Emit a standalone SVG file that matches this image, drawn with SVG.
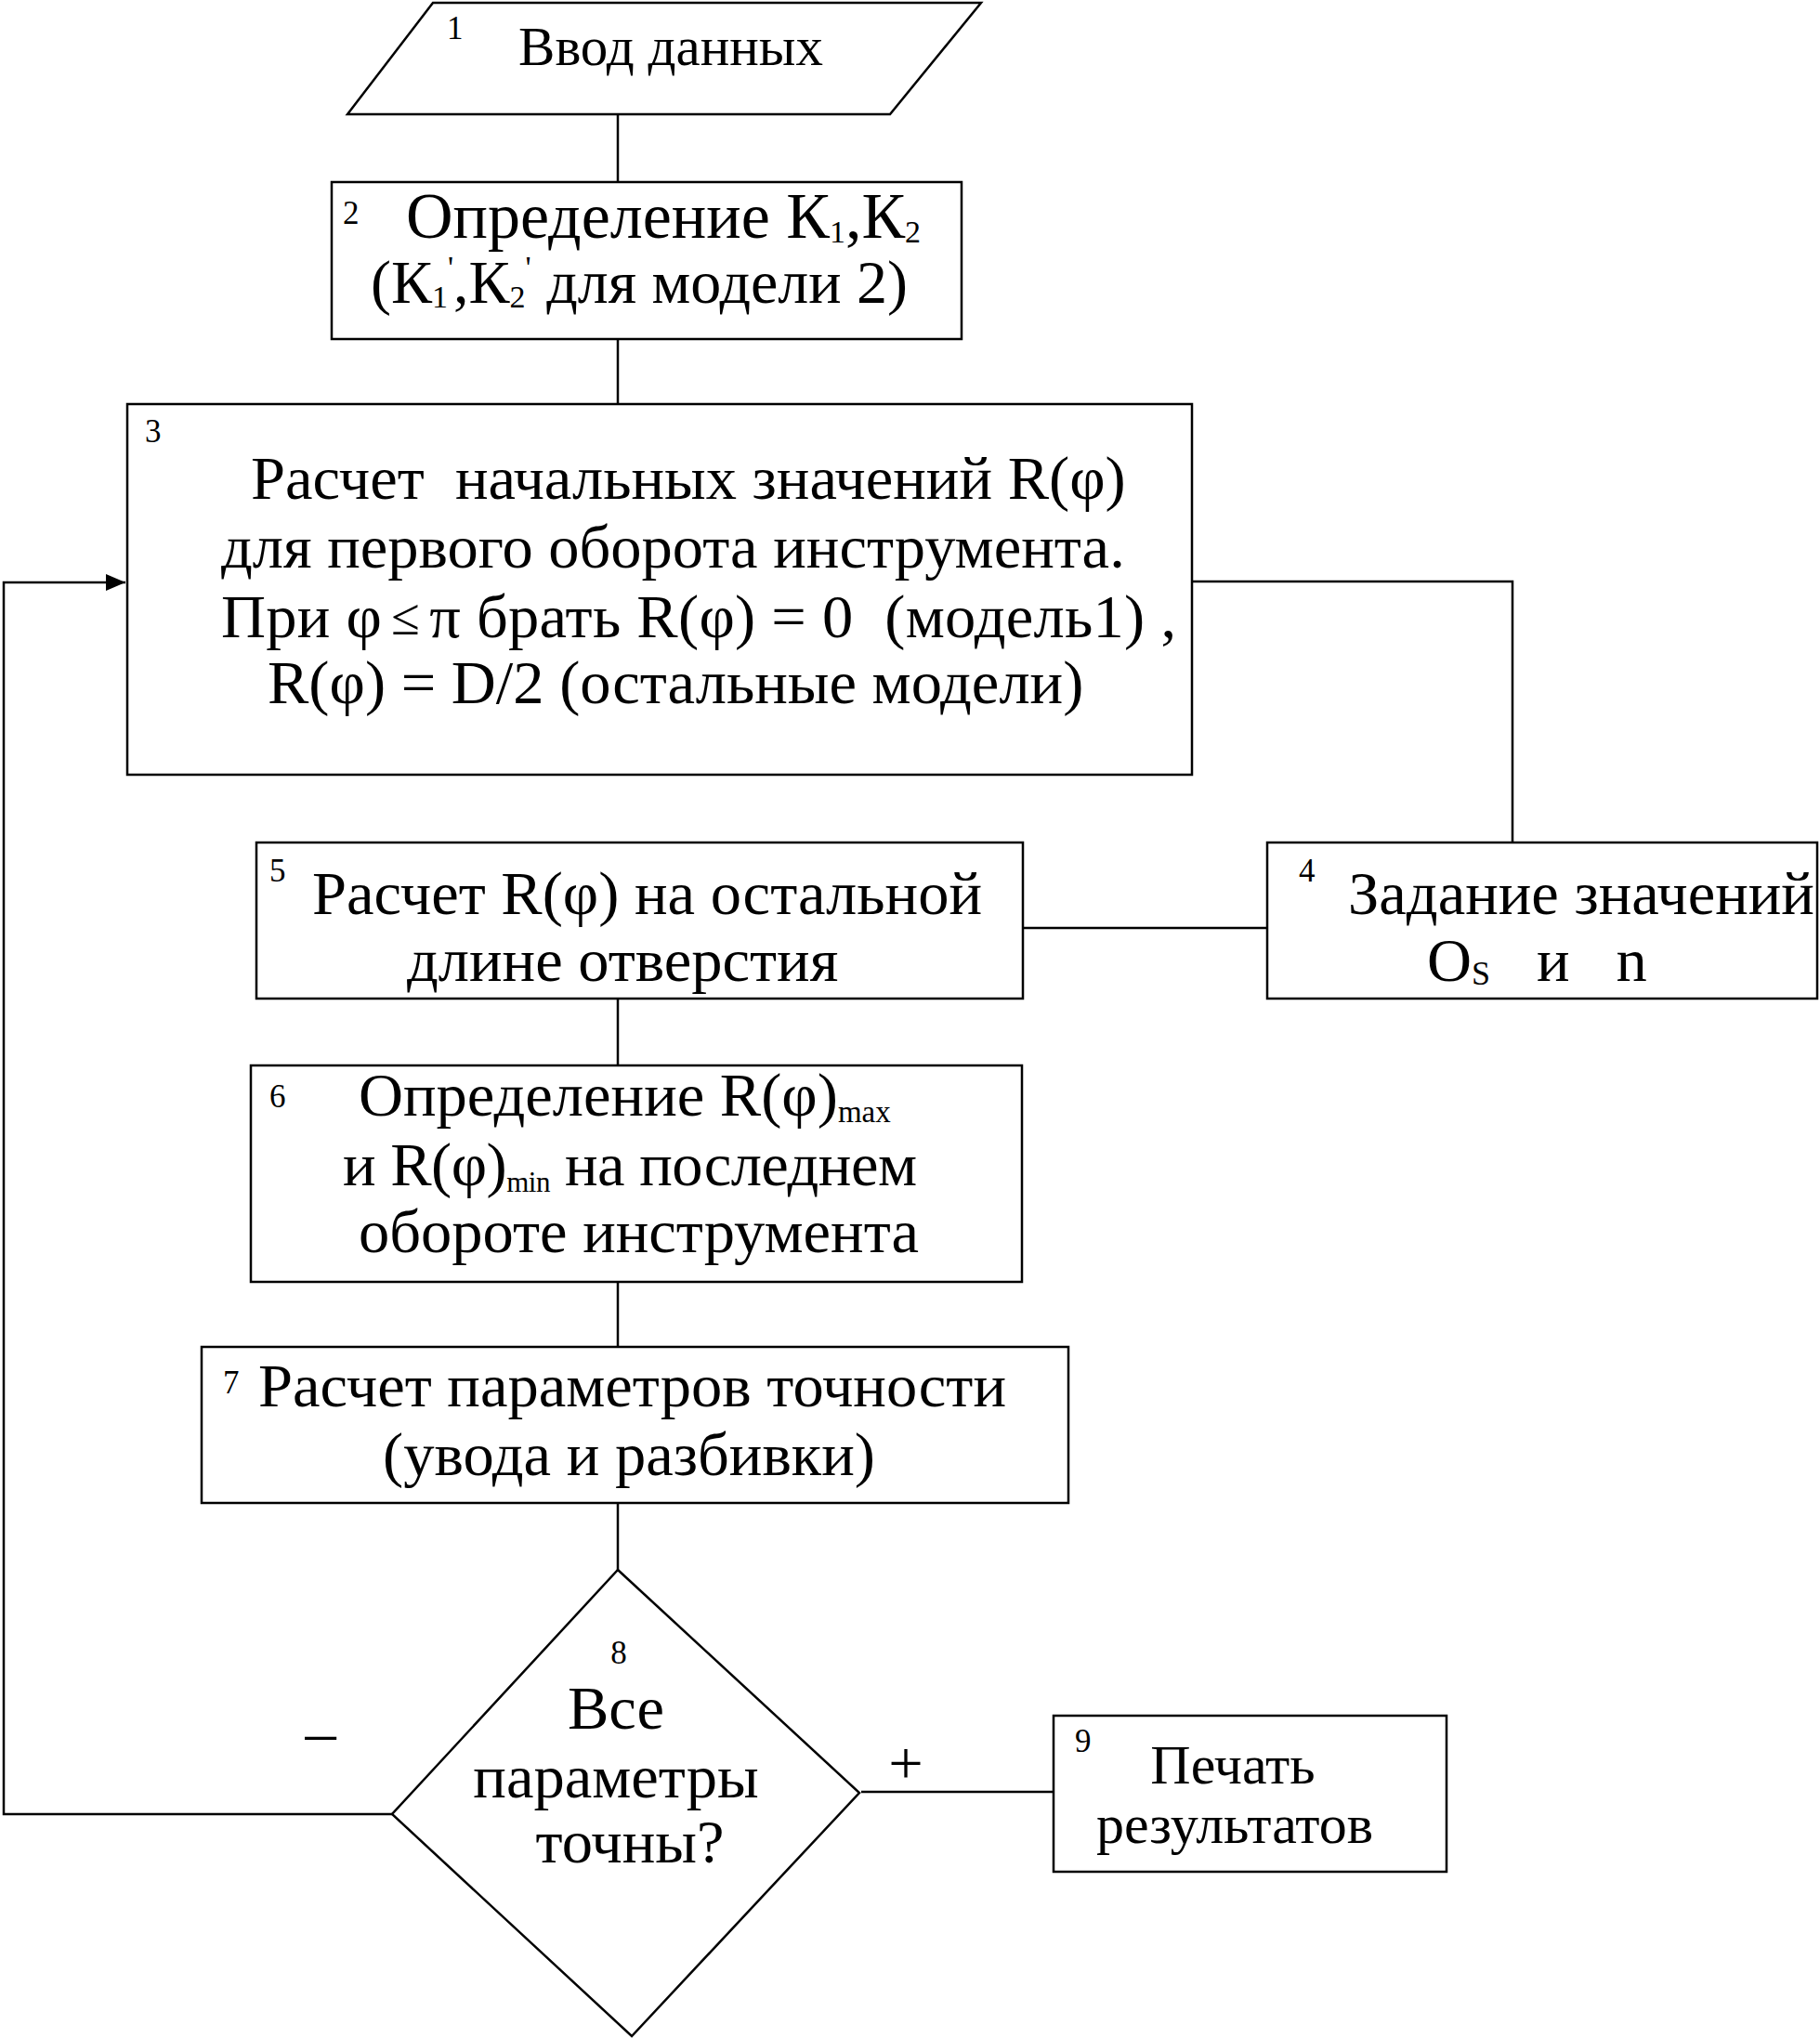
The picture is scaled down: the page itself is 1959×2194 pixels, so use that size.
<svg xmlns="http://www.w3.org/2000/svg" width="1959" height="2194" viewBox="0 0 1959 2194">
<style>
.shape{fill:#fff;stroke:#000;stroke-width:2.5}
.ln{fill:none;stroke:#000;stroke-width:2.5}
text{font-family:"Liberation Serif","Times New Roman",serif;fill:#000}
.t{font-size:66.5px}
.n{font-size:35px}
.m{text-anchor:middle}
</style>
<defs>
<marker id="arr" markerUnits="userSpaceOnUse" markerWidth="22" markerHeight="18" refX="21" refY="9" orient="auto">
<path d="M0,0 L21,9 L0,18 Z" fill="#000"/>
</marker>
</defs>
<rect width="1959" height="2194" fill="#fff"/>
<g id="connectors">
<line class="ln" x1="665" y1="124" x2="665" y2="196"/>
<line class="ln" x1="665" y1="365" x2="665" y2="435"/>
<polyline class="ln" points="1283,626 1628,626 1628,907"/>
<line class="ln" x1="1101" y1="999" x2="1364" y2="999"/>
<line class="ln" x1="665" y1="1075" x2="665" y2="1147"/>
<line class="ln" x1="665" y1="1380" x2="665" y2="1450"/>
<line class="ln" x1="665" y1="1618" x2="665" y2="1690"/>
<polyline class="ln" points="422,1953 4,1953 4,627 135,627" marker-end="url(#arr)"/>
<line class="ln" x1="927" y1="1929" x2="1134" y2="1929"/>
<text class="t" x="345" y="1887" text-anchor="middle">–</text>
<text class="t" x="975" y="1920" text-anchor="middle">+</text>
</g>
<g id="node1">
<polygon class="shape" points="466,3 1056,3 958,123 374,123"/>
<text class="n" x="481" y="42">1</text>
<text class="m" x="722" y="70" font-size="59">Ввод данных</text>
</g>
<g id="node2">
<rect class="shape" x="357" y="196" width="678" height="169"/>
<text class="n" x="369" y="241">2</text>
<text class="m" x="714" y="256" font-size="70">Определение К<tspan font-size="34" dy="5">1</tspan><tspan dy="-5">,К</tspan><tspan font-size="34" dy="5">2</tspan></text>
<text class="m" x="688" y="326" font-size="66">(К<tspan font-size="34" dy="5">1</tspan><tspan font-size="34" dy="-32">'</tspan><tspan dy="27">,К</tspan><tspan font-size="34" dy="5">2</tspan><tspan font-size="34" dy="-32">'</tspan><tspan dy="27"> для модели 2)</tspan></text>
</g>
<g id="node3">
<rect class="shape" x="137" y="435" width="1146" height="399"/>
<text class="n" x="156" y="476">3</text>
<text class="t" x="270" y="537" xml:space="preserve">Расчет  начальных значений R(φ)</text>
<text class="t" x="238" y="611">для первого оборота инструмента.</text>
<text class="t" x="238" y="686" textLength="1028" xml:space="preserve">При φ<tspan font-size="56" dy="-3" dx="10">≤</tspan><tspan dy="3" dx="10">π брать R(φ) = 0  (модель1) ,</tspan></text>
<text class="t" x="288" y="757">R(φ) = D/2 (остальные модели)</text>
</g>
<g id="node4">
<rect class="shape" x="1364" y="907" width="592" height="168"/>
<text class="n" x="1398" y="949">4</text>
<text class="t" x="1451" y="984">Задание значений</text>
<text class="t" x="1536" y="1056" xml:space="preserve">O<tspan font-size="36" dy="4">S</tspan><tspan dy="-4">   и   n</tspan></text>
</g>
<g id="node5">
<rect class="shape" x="276" y="907" width="825" height="168"/>
<text class="n" x="290" y="949">5</text>
<text class="t" x="336" y="984">Расчет R(φ) на остальной</text>
<text class="t" x="438" y="1056">длине отверстия</text>
</g>
<g id="node6">
<rect class="shape" x="270" y="1147" width="830" height="233"/>
<text class="n" x="290" y="1192">6</text>
<text class="t" x="386" y="1201">Определение R(φ)<tspan font-size="33" dy="7">max</tspan></text>
<text class="t" x="369" y="1276" textLength="618">и R(φ)<tspan font-size="31" dy="7">min</tspan><tspan dy="-7"> на последнем</tspan></text>
<text class="t" x="386" y="1348">обороте инструмента</text>
</g>
<g id="node7">
<rect class="shape" x="217" y="1450" width="933" height="168"/>
<text class="n" x="240" y="1500">7</text>
<text class="t" x="278" y="1514">Расчет параметров точности</text>
<text class="t m" x="677" y="1588">(увода и разбивки)</text>
</g>
<g id="node8">
<polygon class="shape" points="665,1690 925,1930 680,2192 422,1953"/>
<text class="n m" x="666" y="1791">8</text>
<text class="t m" x="663" y="1861">Все</text>
<text class="t m" x="663" y="1935">параметры</text>
<text class="t m" x="678" y="2005">точны?</text>
</g>
<g id="node9">
<rect class="shape" x="1134" y="1847" width="423" height="168"/>
<text class="n" x="1157" y="1886">9</text>
<text class="m" x="1327" y="1920" font-size="60">Печать</text>
<text class="m" x="1329" y="1984" font-size="60">результатов</text>
</g>
</svg>
